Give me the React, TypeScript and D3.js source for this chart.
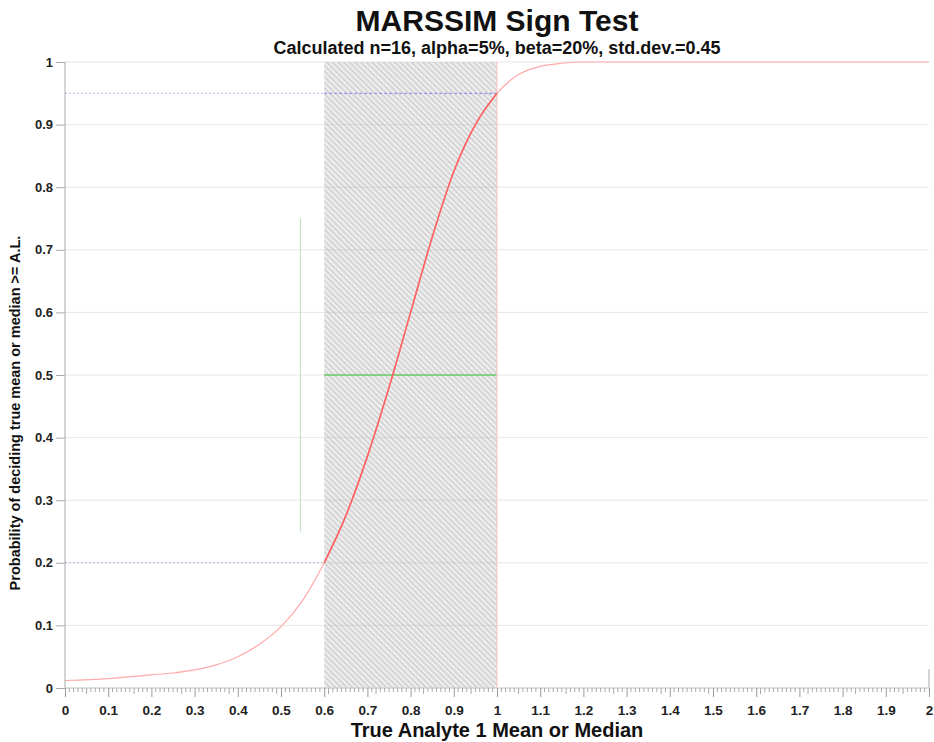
import React, { useEffect, useRef } from "react";
import * as d3 from "d3";

// power curve
const curveX = [0, 0.1, 0.2, 0.25, 0.3, 0.35, 0.4, 0.45, 0.5, 0.55, 0.6, 0.65, 0.7, 0.75, 0.8, 0.85, 0.9, 0.95, 1.0, 1.05, 1.1, 1.15, 1.2, 2.0];
const curveY = [0.012, 0.015, 0.021, 0.024, 0.029, 0.037, 0.05, 0.07, 0.098, 0.14, 0.2, 0.275, 0.37, 0.48, 0.6, 0.72, 0.825, 0.9, 0.95, 0.98, 0.993, 0.998, 1.0, 1.0];

const xTicks = d3.range(0, 21).map((i) => i / 10);
const yTicks = d3.range(0, 11).map((i) => i / 10);

const grayLower = 0.6; // LBGR
const actionLevel = 1.0;
const alphaLevel = 0.95;
const betaLevel = 0.2;
const halfLevel = 0.5;
const sigmaX = 0.545;
const sigmaSpan = [0.25, 0.75];

const title = "MARSSIM Sign Test";
const subtitle = "Calculated n=16, alpha=5%, beta=20%, std.dev.=0.45";
const xTitle = "True Analyte 1 Mean or Median";
const yTitle = "Probability of deciding true mean or median >= A.L.";

const W = 934;
const H = 742;
const margin = { top: 62, right: 5, bottom: 54, left: 65 };

const fmt = (v: number) => (v === 0 ? "0" : v === 1 ? "1" : v === 2 ? "2" : d3.format(".1f")(v));

function MarssimChart() {
  const svgRef = useRef<SVGSVGElement>(null);

  useEffect(() => {
    if (!svgRef.current) return;
    const svg = d3.select(svgRef.current);
    svg.selectAll("*").remove();

    const chartWidth = W - margin.left - margin.right;
    const chartHeight = H - margin.top - margin.bottom;
    const x = d3.scaleLinear().domain([0, 2]).range([0, chartWidth]);
    const y = d3.scaleLinear().domain([0, 1]).range([chartHeight, 0]);
    const font = "Liberation Sans, Arial, sans-serif";

    const defs = svg.append("defs");
    const pat = defs
      .append("pattern")
      .attr("id", "hatch")
      .attr("patternUnits", "userSpaceOnUse")
      .attr("width", 4)
      .attr("height", 4)
      .attr("patternTransform", "rotate(-45)");
    pat.append("rect").attr("width", 4).attr("height", 4).attr("fill", "#efefef");
    pat.append("line").attr("x1", 1).attr("y1", 0).attr("x2", 1).attr("y2", 4).attr("stroke", "#c4c4c4").attr("stroke-width", 1.2);

    svg.append("rect").attr("width", W).attr("height", H).attr("fill", "#fff");

    const g = svg.append("g").attr("transform", `translate(${margin.left},${margin.top})`);

    // gray region
    g.append("rect")
      .attr("x", x(grayLower))
      .attr("y", y(1))
      .attr("width", x(actionLevel) - x(grayLower))
      .attr("height", y(0) - y(1))
      .attr("fill", "url(#hatch)");

    // grid
    g.append("g")
      .selectAll("line")
      .data(yTicks)
      .join("line")
      .attr("x1", 0)
      .attr("x2", chartWidth)
      .attr("y1", (d) => y(d))
      .attr("y2", (d) => y(d))
      .attr("stroke", "#b0b0b0")
      .attr("stroke-opacity", 0.3);

    // reference lines
    g.append("line")
      .attr("x1", x(0)).attr("x2", x(grayLower))
      .attr("y1", y(alphaLevel)).attr("y2", y(alphaLevel))
      .attr("stroke", "#b8b8f0").attr("stroke-dasharray", "2,2");
    g.append("line")
      .attr("x1", x(grayLower)).attr("x2", x(actionLevel))
      .attr("y1", y(alphaLevel)).attr("y2", y(alphaLevel))
      .attr("stroke", "#8080f0").attr("stroke-dasharray", "3,2");
    g.append("line")
      .attr("x1", x(0)).attr("x2", x(grayLower))
      .attr("y1", y(betaLevel)).attr("y2", y(betaLevel))
      .attr("stroke", "#b8b8f0").attr("stroke-dasharray", "2,2");
    g.append("line")
      .attr("x1", x(grayLower)).attr("x2", x(actionLevel))
      .attr("y1", y(halfLevel)).attr("y2", y(halfLevel))
      .attr("stroke", "#66cc66").attr("stroke-width", 1.5);
    g.append("line")
      .attr("x1", x(sigmaX)).attr("x2", x(sigmaX))
      .attr("y1", y(sigmaSpan[0])).attr("y2", y(sigmaSpan[1]))
      .attr("stroke", "#b8e4b8");
    g.append("line")
      .attr("x1", x(actionLevel)).attr("x2", x(actionLevel))
      .attr("y1", y(0)).attr("y2", y(1))
      .attr("stroke", "#ffc0c0");

    // curve
    const pts = curveX.map((v, i) => ({ x: v, y: curveY[i] }));
    const line = d3
      .line<{ x: number; y: number }>()
      .x((d) => x(d.x))
      .y((d) => y(d.y))
      .curve(d3.curveMonotoneX);
    g.append("path").attr("d", line(pts) || "").attr("fill", "none").attr("stroke", "#ffaaaa").attr("stroke-width", 1.2);
    const inner = pts.filter((d) => d.x >= grayLower && d.x <= actionLevel);
    g.append("path").attr("d", line(inner) || "").attr("fill", "none").attr("stroke", "#ff6060").attr("stroke-width", 1.6);

    // axes frame
    g.append("line").attr("x1", 0).attr("x2", 0).attr("y1", y(1)).attr("y2", y(0)).attr("stroke", "#aaa");
    g.append("line").attr("x1", 0).attr("x2", chartWidth).attr("y1", y(0)).attr("y2", y(0)).attr("stroke", "#ccc");
    g.append("line").attr("x1", chartWidth).attr("x2", chartWidth).attr("y1", y(0.03)).attr("y2", y(0)).attr("stroke", "#aaa");

    // y axis
    const yAxis = g
      .append("g")
      .call(d3.axisLeft(y).tickValues(yTicks).tickSize(9).tickPadding(3).tickFormat((d) => fmt(+d)) as any);
    yAxis.select(".domain").remove();
    yAxis.selectAll("line").attr("stroke", "#aaa");
    yAxis.selectAll("text").attr("font-family", font).attr("font-size", 13).attr("font-weight", "bold").attr("fill", "#222");

    // x axis minor ticks
    const minor = d3.range(0, 201).map((i) => i / 100);
    g.append("g")
      .selectAll("line")
      .data(minor.filter((_, i) => i % 10 !== 0))
      .join("line")
      .attr("x1", (d) => x(d))
      .attr("x2", (d) => x(d))
      .attr("y1", y(0))
      .attr("y2", (_, i) => y(0) + ((i + 1) % 10 === 5 ? 6 : 4))
      .attr("stroke", "#aaa");
    const xAxis = g
      .append("g")
      .attr("transform", `translate(0,${chartHeight})`)
      .call(d3.axisBottom(x).tickValues(xTicks).tickSize(9).tickPadding(8).tickFormat((d) => fmt(+d)) as any);
    xAxis.select(".domain").remove();
    xAxis.selectAll("line").attr("stroke", "#999");
    xAxis.selectAll("text").attr("font-family", font).attr("font-size", 13.5).attr("font-weight", "bold").attr("fill", "#222");

    // titles
    svg.append("text").attr("x", margin.left + x(1)).attr("y", 31).attr("text-anchor", "middle")
      .attr("font-family", font).attr("font-size", 30).attr("font-weight", "bold").attr("fill", "#111").text(title);
    svg.append("text").attr("x", margin.left + x(1)).attr("y", 54).attr("text-anchor", "middle")
      .attr("font-family", font).attr("font-size", 18).attr("font-weight", "bold").attr("fill", "#111").text(subtitle);
    svg.append("text").attr("x", margin.left + x(1)).attr("y", 737).attr("text-anchor", "middle")
      .attr("font-family", font).attr("font-size", 20).attr("font-weight", "bold").attr("fill", "#111").text(xTitle);
    svg.append("text").attr("transform", "translate(20,413) rotate(-90)").attr("text-anchor", "middle")
      .attr("font-family", font).attr("font-size", 14.5).attr("font-weight", "bold").attr("fill", "#111").text(yTitle);
  }, []);

  return <svg ref={svgRef} width={W} height={H} style={{ position: "absolute", left: 0, top: 0 }} />;
}

export default function App() {
  return <MarssimChart />;
}
